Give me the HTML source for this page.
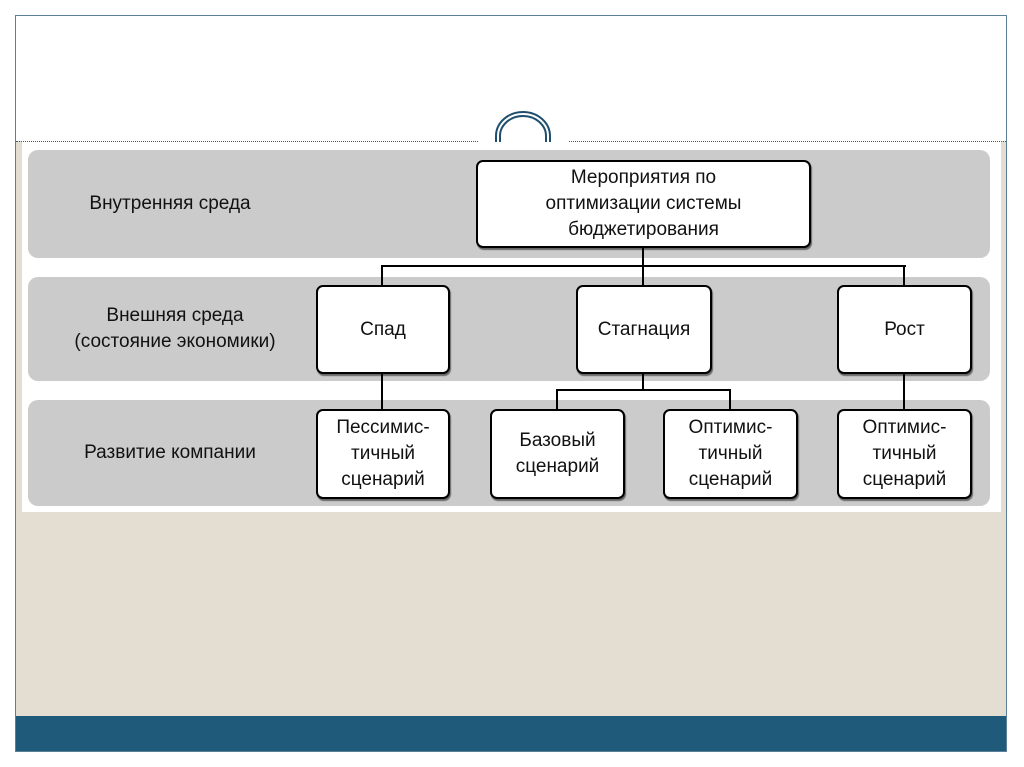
<!DOCTYPE html>
<html><head><meta charset="utf-8"><style>
body{margin:0;width:1024px;height:767px;background:#fff;position:relative;overflow:hidden;font-family:"Liberation Sans","DejaVu Sans",sans-serif}
.a{position:absolute}
.band{position:absolute;background:#cbcbcb;border-radius:10px;left:28px;width:962px}
.box{position:absolute;background:#fff;border:2px solid #000;border-radius:7px;box-sizing:border-box;display:flex;align-items:center;justify-content:center;text-align:center;font-size:19px;line-height:26px;color:#111;box-shadow:1px 2px 1px rgba(0,0,0,.5)}
.lbl{position:absolute;font-size:19px;line-height:26px;color:#111;text-align:center}
.l{position:absolute;background:#000}
</style></head><body>
<div class="a" style="left:15px;top:15px;width:992px;height:737px;border:1px solid #5a7f96;box-sizing:border-box;background:#e3ddd2"></div>
<div class="a" style="left:16px;top:16px;width:990px;height:125px;background:#fff"></div>
<div class="a" style="left:22px;top:141px;width:979px;height:371px;background:#fff"></div>
<div class="a" style="left:16px;top:141px;width:990px;border-top:1px dotted #2c5f80"></div>
<div class="a" style="left:16px;top:716px;width:990px;height:35px;background:#1f5a7b"></div>
<svg class="a" style="left:478px;top:108px" width="90" height="40"><rect x="0" y="30" width="90" height="10" fill="#fff"/><path d="M11 36 V28 A24 22 0 0 1 59 28 V36" transform="translate(10,0)" fill="none" stroke="#fff" stroke-width="10"/><path d="M18 34 V28 A27 24 0 0 1 72 28 V34" fill="none" stroke="#1f4f6e" stroke-width="2"/><path d="M22 34 V28 A23 20 0 0 1 68 28 V34" fill="none" stroke="#1f4f6e" stroke-width="2"/></svg>
<div class="band" style="top:150px;height:108px"></div>
<div class="band" style="top:277px;height:104px"></div>
<div class="band" style="top:400px;height:106px"></div>
<div class="lbl" style="left:60px;top:191px;width:220px">Внутренняя среда</div>
<div class="lbl" style="left:40px;top:303px;width:270px">Внешняя среда<br>(состояние экономики)</div>
<div class="lbl" style="left:50px;top:440px;width:240px">Развитие компании</div>
<div class="l" style="left:642px;top:247px;width:2px;height:20px"></div>
<div class="l" style="left:381px;top:265px;width:525px;height:2px"></div>
<div class="l" style="left:381px;top:265px;width:2px;height:20px"></div>
<div class="l" style="left:642px;top:265px;width:2px;height:20px"></div>
<div class="l" style="left:903px;top:265px;width:2px;height:20px"></div>
<div class="l" style="left:381px;top:373px;width:2px;height:36px"></div>
<div class="l" style="left:642px;top:373px;width:2px;height:18px"></div>
<div class="l" style="left:556px;top:389px;width:175px;height:2px"></div>
<div class="l" style="left:556px;top:389px;width:2px;height:20px"></div>
<div class="l" style="left:729px;top:389px;width:2px;height:20px"></div>
<div class="l" style="left:903px;top:373px;width:2px;height:36px"></div>
<div class="box" style="left:476px;top:160px;width:335px;height:88px">Мероприятия по<br>оптимизации системы<br>бюджетирования</div>
<div class="box" style="left:316px;top:285px;width:134px;height:89px">Спад</div>
<div class="box" style="left:576px;top:285px;width:136px;height:89px">Стагнация</div>
<div class="box" style="left:837px;top:285px;width:135px;height:89px">Рост</div>
<div class="box" style="left:316px;top:409px;width:134px;height:90px">Пессимис-<br>тичный<br>сценарий</div>
<div class="box" style="left:490px;top:409px;width:135px;height:90px">Базовый<br>сценарий</div>
<div class="box" style="left:663px;top:409px;width:135px;height:90px">Оптимис-<br>тичный<br>сценарий</div>
<div class="box" style="left:837px;top:409px;width:135px;height:90px">Оптимис-<br>тичный<br>сценарий</div>
</body></html>
